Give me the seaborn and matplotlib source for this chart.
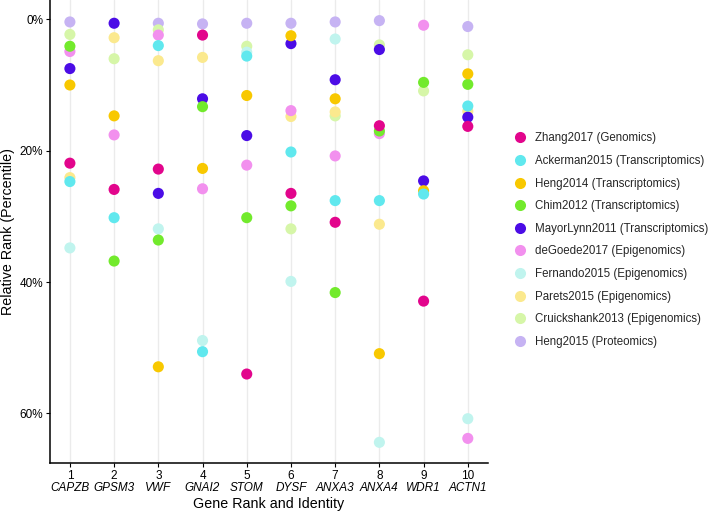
import numpy as np
import pandas as pd
import matplotlib
matplotlib.use("Agg")
import matplotlib.pyplot as plt
import seaborn as sns

genes = ["CAPZB", "GPSM3", "VWF", "GNAI2", "STOM", "DYSF", "ANXA3", "ANXA4", "WDR1", "ACTN1"]
ranks = list(range(1, 11))

datasets = ["Zhang2017 (Genomics)", "Ackerman2015 (Transcriptomics)", "Heng2014 (Transcriptomics)",
            "Chim2012 (Transcriptomics)", "MayorLynn2011 (Transcriptomics)", "deGoede2017 (Epigenomics)",
            "Fernando2015 (Epigenomics)", "Parets2015 (Epigenomics)", "Cruickshank2013 (Epigenomics)",
            "Heng2015 (Proteomics)"]
colors = ["#E2058C", "#60E8EE", "#F8C800", "#72EA2C", "#4B0CE6", "#F290EE",
          "#C0F4EE", "#FBE98E", "#D6F6A8", "#C6B3F3"]

nan = np.nan
zhang       = [21.9, 25.9, 22.8, 2.4, 54.0, 26.5, 30.9, 16.2, 42.9, 16.3]
ackerman    = [24.7, 30.2, 4.0, 50.6, 5.6, 20.2, 27.6, 27.6, 26.6, 13.2]
heng2014    = [10.0, 14.7, 52.9, 22.7, 11.6, 2.5, 12.1, 50.9, 26.1, 8.3]
chim        = [4.1, 36.8, 33.6, 13.3, 30.2, 28.4, 41.6, 17.0, 9.6, 9.9]
mayorlynn   = [7.5, 0.6, 26.5, 12.1, 17.7, 3.7, 9.2, 4.6, 24.6, 14.9]
degoede     = [4.9, 17.6, 2.4, 25.8, 22.2, 13.9, 20.8, 17.4, 0.9, 63.8]
fernando    = [34.8, nan, 31.9, 48.9, 5.0, 39.9, 3.0, 64.4, nan, 60.8]
parets      = [24.1, 2.8, 6.3, 5.8, nan, 14.8, 14.1, 31.2, nan, 14.0]
cruickshank = [2.3, 6.0, 1.6, nan, 4.1, 31.9, 14.7, 3.9, 10.9, 5.4]
heng2015    = [0.4, nan, 0.6, 0.7, 0.6, 0.6, 0.4, 0.2, nan, 1.1]

values = [zhang, ackerman, heng2014, chim, mayorlynn, degoede, fernando, parets, cruickshank, heng2015]

rows = []
# draw in reverse legend order so Zhang2017 ends up on top
for name, vals in reversed(list(zip(datasets, values))):
    for r, v in zip(ranks, vals):
        if not np.isnan(v):
            rows.append({"rank": r, "pct": v, "dataset": name})
df = pd.DataFrame(rows)

sns.set_theme(style="white")
plt.rcParams["font.family"] = ["Liberation Sans", "DejaVu Sans"]

fig = plt.figure(figsize=(7.09, 5.11), dpi=100)
ax = fig.add_axes([50 / 709, 1 - 462.7 / 511, (487.7 - 50) / 709, 462.7 / 511])

for r in ranks:
    ax.axvline(r, color="#EBEBEB", lw=1.0, zorder=0)

sns.scatterplot(data=df, x="rank", y="pct", hue="dataset", hue_order=datasets,
                palette=dict(zip(datasets, colors)), s=64, linewidth=0, alpha=1,
                ax=ax, zorder=3, legend=True)

ax.set_xlim(0.55, 10.45)
ax.set_ylim(67.5, -2.94)
ax.set_yticks([0, 20, 40, 60])
ax.set_yticklabels(["0%", "20%", "40%", "60%"])

ax.set_xticks(ranks)
ax.set_xticklabels([str(r) for r in ranks])
ax.xaxis.remove_overlapping_locs = False
ax.set_xticks(ranks, minor=True)
ax.set_xticklabels(genes, minor=True, style="italic")
ax.tick_params(axis="x", which="minor", length=0, pad=14, labelsize=8.5, colors="black")
ax.tick_params(axis="x", which="major", length=3, width=0.8, pad=2, labelsize=8.5,
               colors="black", bottom=True)
ax.tick_params(axis="y", length=3, width=0.8, pad=2, labelsize=8.5, colors="black", left=True)

for side in ["top", "right"]:
    ax.spines[side].set_visible(False)
for side in ["left", "bottom"]:
    ax.spines[side].set_color("black")
    ax.spines[side].set_linewidth(1.1)

ax.set_xlabel("Gene Rank and Identity", fontsize=10.3, color="black", labelpad=2)
ax.set_ylabel("Relative Rank (Percentile)", fontsize=10.3, color="black", labelpad=3)
ax.grid(False)

leg = ax.legend(loc="center left", frameon=False, fontsize=8.3, labelspacing=0.92,
                handletextpad=0.25, markerscale=1.0, borderaxespad=0)
leg.set_bbox_to_anchor((1.038, 0.481), transform=ax.transAxes)

fig.savefig("out.png", dpi=100)
